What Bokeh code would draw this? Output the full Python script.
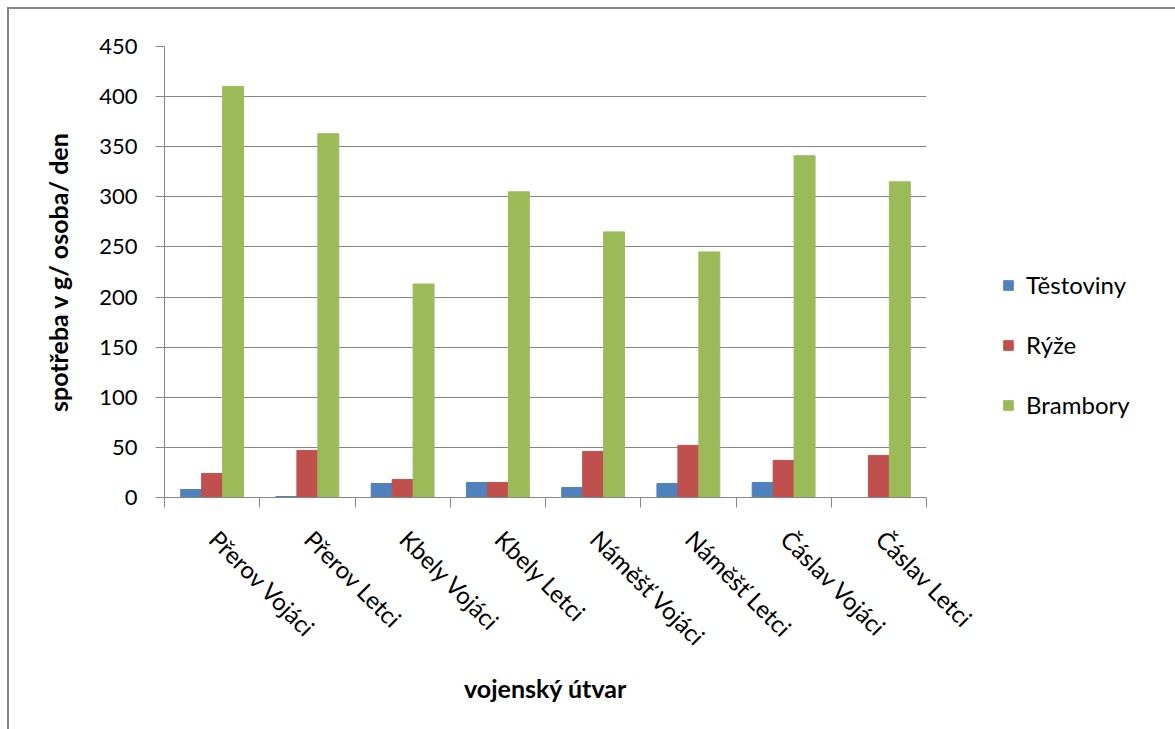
import math
from bokeh.plotting import figure
from bokeh.models import ColumnDataSource, FixedTicker, Legend, LegendItem
from bokeh.transform import dodge
from bokeh.embed import file_html
from bokeh.resources import INLINE

categories = ["Přerov Vojáci", "Přerov Letci", "Kbely Vojáci", "Kbely Letci",
              "Náměšť Vojáci", "Náměšť Letci", "Čáslav Vojáci", "Čáslav Letci"]
testoviny = [8, 1, 14, 15, 10, 14, 15, 0]
ryze = [24, 47, 18, 15, 46, 52, 37, 42]
brambory = [410, 363, 213, 305, 265, 245, 341, 315]
series_names = ["Těstoviny", "Rýže", "Brambory"]
colors = ["#4F81BD", "#C0504D", "#9BBB59"]
y_ticks = [0, 50, 100, 150, 200, 250, 300, 350, 400, 450]

FONT = "Lato"
GRID = "#868686"

xc = [i + 0.5 for i in range(len(categories))]
label_pos = [v + 0.02 for v in xc]
src = ColumnDataSource(dict(x=xc, t=testoviny, r=ryze, b=brambory))

p = figure(frame_width=762, frame_height=451, output_backend="svg",
           toolbar_location=None,
           x_range=(0, len(categories)), y_range=(0, 450),
           min_border_left=155, min_border_right=240, min_border_top=37,
           min_border_bottom=232)
p.outline_line_color = None
p.background_fill_color = "white"
p.border_fill_color = "white"
p.styles = {"margin-left": "7px", "margin-top": "7px",
            "border-left": "2px solid #868686", "border-top": "2px solid #868686"}

bw = 0.22
r1 = p.vbar(x=dodge("x", -bw, range=p.x_range), top="t", width=bw, source=src,
            color=colors[0])
r2 = p.vbar(x=dodge("x", 0, range=p.x_range), top="r", width=bw, source=src,
            color=colors[1])
r3 = p.vbar(x=dodge("x", bw, range=p.x_range), top="b", width=bw, source=src,
            color=colors[2])

# y axis
p.yaxis.ticker = FixedTicker(ticks=y_ticks)
p.yaxis.axis_line_color = GRID
p.yaxis.major_tick_line_color = GRID
p.yaxis.major_tick_out = 9
p.yaxis.major_tick_in = 0
p.yaxis.minor_tick_line_color = None
p.yaxis.major_label_text_font = FONT
p.yaxis.major_label_text_font_size = "22px"
p.yaxis.major_label_text_color = "black"
p.yaxis.major_label_standoff = 18
p.yaxis.axis_label = "spotřeba v g/ osoba/ den"
p.yaxis.axis_label_text_font = FONT
p.yaxis.axis_label_text_font_style = "bold"
p.yaxis.axis_label_text_font_size = "25px"
p.yaxis.axis_label_text_color = "black"
p.yaxis.axis_label_standoff = 23

# x axis
p.xaxis.ticker = FixedTicker(ticks=label_pos,
                             minor_ticks=list(range(len(categories) + 1)))
p.xaxis.major_label_overrides = {v: c for v, c in zip(label_pos, categories)}
p.xaxis.axis_line_color = GRID
p.xaxis.major_tick_line_color = None
p.xaxis.minor_tick_line_color = GRID
p.xaxis.minor_tick_out = 10
p.xaxis.minor_tick_in = 0
p.xaxis.major_label_orientation = -math.pi / 4
p.xaxis.major_label_text_font = FONT
p.xaxis.major_label_text_font_size = "24px"
p.xaxis.major_label_text_color = "black"
p.xaxis.major_label_standoff = 27
p.xaxis.axis_label = "vojenský útvar"
p.xaxis.axis_label_text_font = FONT
p.xaxis.axis_label_text_font_style = "bold"
p.xaxis.axis_label_text_font_size = "25px"
p.xaxis.axis_label_text_color = "black"
p.xaxis.axis_label_standoff = 9

p.xgrid.grid_line_color = None
p.ygrid.ticker = FixedTicker(ticks=y_ticks)
p.ygrid.grid_line_color = GRID
p.ygrid.grid_line_width = 1

legend = Legend(items=[LegendItem(label=n, renderers=[r])
                       for n, r in zip(series_names, [r1, r2, r3])],
                location=(76, 78), orientation="vertical",
                label_text_font=FONT, label_text_font_size="24px",
                label_text_color="black", glyph_width=12, glyph_height=12,
                label_height=20, spacing=31, padding=0, margin=0,
                label_standoff=12, border_line_color=None,
                background_fill_alpha=0)
p.add_layout(legend, "right")

open("out.html", "w").write(file_html(p, INLINE))
